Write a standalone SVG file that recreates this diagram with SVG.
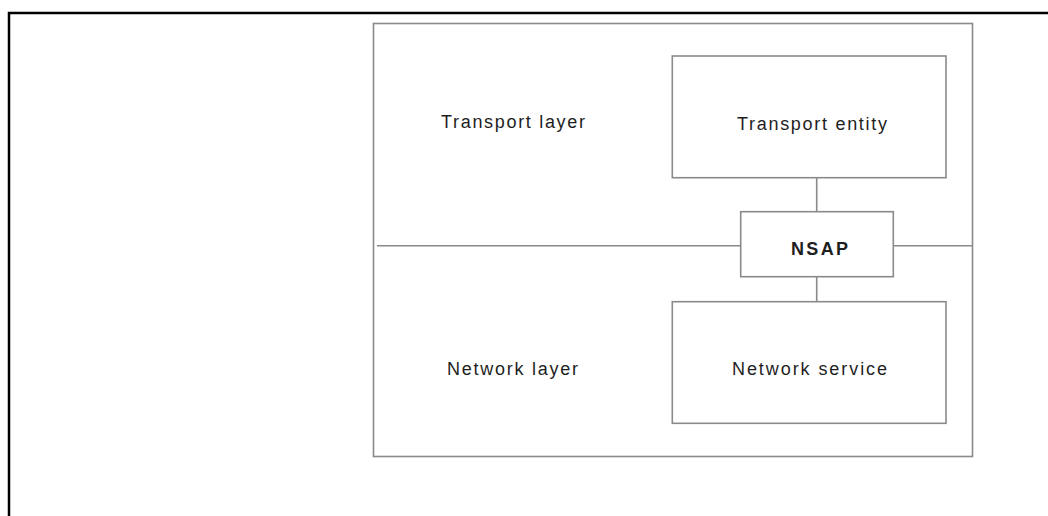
<svg xmlns="http://www.w3.org/2000/svg" width="1048" height="516" viewBox="0 0 1048 516">
<style>
.box{fill:#fff;stroke:#8a8a8a;stroke-width:1.6}
.ln{fill:none;stroke:#8a8a8a;stroke-width:1.6}
.t{font-family:"Liberation Sans",Arial,sans-serif;font-size:18px;fill:#1e1e1e}
.b{font-weight:bold}
</style>
<rect width="1048" height="516" fill="#fff"/>
<path d="M9 516 V13 H1048" fill="none" stroke="#000" stroke-width="2.5"/>
<g id="system">
<rect class="box" x="373.5" y="23.5" width="599" height="433"/>
<text class="t" x="441" y="128" textLength="144" lengthAdjust="spacing">Transport layer</text>
<text class="t" x="447" y="375" textLength="131" lengthAdjust="spacing">Network layer</text>
</g>
<g id="connectors">
<path class="ln" d="M377 245.7 H741 M893 245.7 H973 M816.7 178 V212 M816.7 277 V302"/>
</g>
<g id="transport-entity">
<rect class="box" x="672.3" y="56" width="273.7" height="121.7"/>
<text class="t" x="737" y="130" textLength="150" lengthAdjust="spacing">Transport entity</text>
</g>
<g id="nsap">
<rect class="box" x="740.7" y="211.7" width="152.6" height="65"/>
<text class="t b" x="791" y="255" textLength="57" lengthAdjust="spacing">NSAP</text>
</g>
<g id="network-service">
<rect class="box" x="672.3" y="301.7" width="273.7" height="121.6"/>
<text class="t" x="732" y="375" textLength="155" lengthAdjust="spacing">Network service</text>
</g>
</svg>
